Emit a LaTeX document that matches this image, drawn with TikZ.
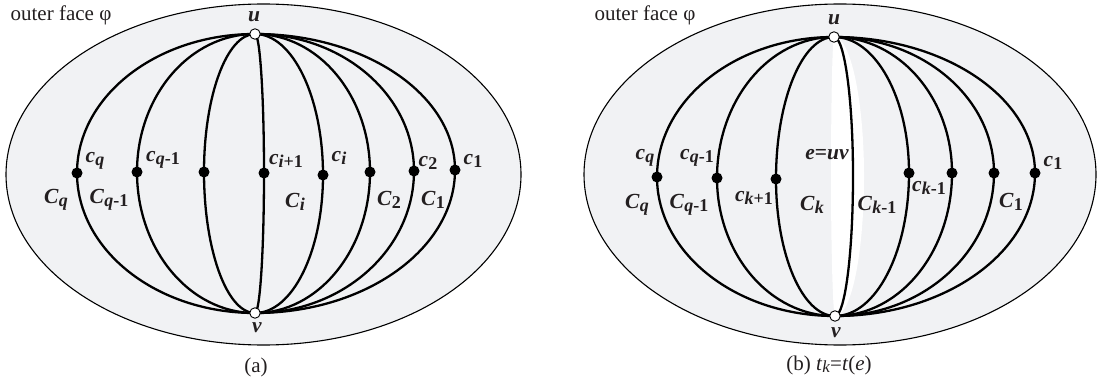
\documentclass[tikz,border=0pt]{standalone}
\usepackage{fontspec}
\setmainfont{Liberation Serif}
\usetikzlibrary{calc}
\pgfdeclarelayer{back}
\pgfdeclarelayer{mid}
\pgfsetlayers{back,mid,main}
\definecolor{face}{RGB}{241,242,244}
\definecolor{ink}{RGB}{35,31,32}
\newcommand\lune[3]{\draw[curve] (#1.center) .. controls ($(#1.center)!0.5523!(#1.center -| #2.center)$) and ($(#2.center)!0.5523!(#2.center |- #1.center)$) .. (#2.center) .. controls ($(#2.center)!0.5523!(#2.center |- #3.center)$) and ($(#3.center)!0.5523!(#3.center -| #2.center)$) .. (#3.center);}
\newcommand\lb[2]{\textbf{\textit{#1}}\raisebox{-0.35ex}{\fontsize{18}{18}\selectfont\bfseries #2}}
\tikzset{
  curve/.style={line width=2.3pt, draw=black},
  dotnode/.style={circle, fill=black, inner sep=0pt, minimum size=11pt},
  endnode/.style={circle, draw=black, fill=white, line width=0.9pt, inner sep=0pt, minimum size=10.5pt},
  lab/.style={text=ink, font=\fontsize{21.5}{22}\selectfont, inner sep=0pt},
  captext/.style={text=ink, font=\fontsize{21}{22}\selectfont, inner sep=0pt},
  outerface/.style={draw=black, line width=1.1pt, fill=face}
}
\begin{document}
\begin{tikzpicture}[x=1pt,y=-1pt]
\useasboundingbox (0,0) rectangle (1099,382);
\begin{pgfonlayer}{back}
  \path[outerface] (263.5,174.5) ellipse [x radius=257.5, y radius=170.5];
  \path[outerface] (840,174.5) ellipse [x radius=256, y radius=170.5];
\end{pgfonlayer}

% ---------- panel (a) ----------
\node[endnode] (ua) at (255,34) {};
\node[endnode] (va) at (255,313) {};
\node[dotnode] (a1) at (77,173) {};
\node[dotnode] (a2) at (137,172) {};
\node[dotnode] (a3) at (204,172) {};
\node[dotnode] (a4) at (264,173) {};
\node[dotnode] (a5) at (323,175) {};
\node[dotnode] (a6) at (370,172) {};
\node[dotnode] (a7) at (414,171) {};
\node[dotnode] (a8) at (455,170) {};
\begin{pgfonlayer}{mid}
  \lune{ua}{a1}{va}
  \lune{ua}{a2}{va}
  \lune{ua}{a3}{va}
  \lune{ua}{a4}{va}
  \lune{ua}{a5}{va}
  \lune{ua}{a6}{va}
  \lune{ua}{a7}{va}
  \lune{ua}{a8}{va}
\end{pgfonlayer}
\node[captext] (ofa) at (61,15) {outer face φ};
\node[lab] (lua) at (254,17) {\textbf{\textit{u}}};
\node[lab] (lva) at (257,328) {\textbf{\textit{v}}};
\node[lab] (la1) at (95,161) {\lb{c}{\textit{q}}};
\node[lab] (la2) at (163,160) {\lb{c}{\textit{q}-1}};
\node[lab] (la4) at (286,161) {\lb{c}{\textit{i}+1}};
\node[lab] (la5) at (339,158) {\lb{c}{\textit{i}}};
\node[lab] (la7) at (428,163) {\lb{c}{2}};
\node[lab] (la8) at (473,161) {\lb{c}{1}};
\node[lab] (Ca1) at (56,200) {\lb{C}{\textit{q}}};
\node[lab] (Ca2) at (109,200) {\lb{C}{\textit{q}-1}};
\node[lab] (Ca4) at (295,202) {\lb{C}{\textit{i}}};
\node[lab] (Ca6) at (389,200) {\lb{C}{2}};
\node[lab] (Ca7) at (433,200) {\lb{C}{1}};
\node[captext] (capa) at (256,367) {(a)};

% ---------- panel (b) ----------
\node[endnode] (ub) at (834,37) {};
\node[endnode] (vb) at (835,316) {};
\node[dotnode] (b1) at (657,177) {};
\node[dotnode] (b2) at (717,178) {};
\node[dotnode] (b3) at (776,179) {};
\coordinate (be) at (853,176);
\node[dotnode] (b5) at (909,173) {};
\node[dotnode] (b6) at (952,173) {};
\node[dotnode] (b7) at (994,173) {};
\node[dotnode] (b8) at (1035,173) {};
\begin{pgfonlayer}{mid}
  \fill[white] (834,37) .. controls (832.5,37) and (831,100) .. (831,176)
     .. controls (831,252) and (833,316) .. (835,316)
     .. controls (851.5,316) and (864,253) .. (864,176)
     .. controls (864,100) and (850.5,37) .. (834,37) -- cycle;
  \lune{ub}{b1}{vb}
  \lune{ub}{b2}{vb}
  \lune{ub}{b3}{vb}
  \lune{ub}{be}{vb}
  \lune{ub}{b5}{vb}
  \lune{ub}{b6}{vb}
  \lune{ub}{b7}{vb}
  \lune{ub}{b8}{vb}
\end{pgfonlayer}
\node[captext] (ofb) at (645,15) {outer face φ};
\node[lab] (lub) at (834,20) {\textbf{\textit{u}}};
\node[lab] (lvb) at (836,333) {\textbf{\textit{v}}};
\node[lab] (lb1) at (645,158) {\lb{c}{\textit{q}}};
\node[lab] (lb2) at (697,158) {\lb{c}{\textit{q}-1}};
\node[lab] (lbe) at (827,155) {\textbf{\textit{e}=\textit{uv}}};
\node[lab] (lb3) at (754,198) {\lb{c}{\textit{k}+1}};
\node[lab] (lb5) at (929,188) {\lb{c}{\textit{k}-1}};
\node[lab] (lb8) at (1053,163) {\lb{c}{1}};
\node[lab] (Cb1) at (637,205) {\lb{C}{\textit{q}}};
\node[lab] (Cb2) at (689,205) {\lb{C}{\textit{q}-1}};
\node[lab] (Cbk) at (812,205) {\lb{C}{\textit{k}}};
\node[lab] (Cbk1) at (877,205) {\lb{C}{\textit{k}-1}};
\node[lab] (Cb7) at (1011,202) {\lb{C}{1}};
\node[captext] (capb) at (829,365) {(b) \textit{t}\raisebox{-0.3ex}{\fontsize{17}{17}\selectfont\textit{k}}=\textit{t}(\textit{e})};
\end{tikzpicture}
\end{document}
